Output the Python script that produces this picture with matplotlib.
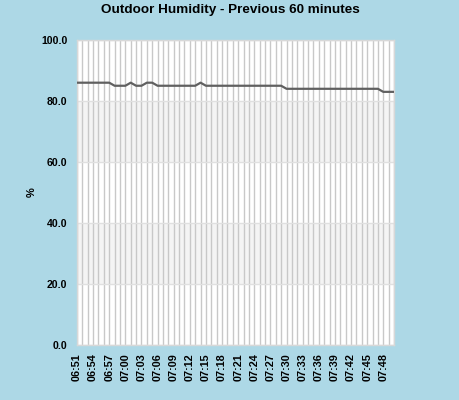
import matplotlib
matplotlib.use("Agg")
import matplotlib.pyplot as plt
from matplotlib.ticker import FixedLocator

plt.rcParams['font.family'] = ['Liberation Sans', 'DejaVu Sans']

times = ["06:51", "06:52", "06:53", "06:54", "06:55", "06:56", "06:57", "06:58", "06:59", "07:00",
         "07:01", "07:02", "07:03", "07:04", "07:05", "07:06", "07:07", "07:08", "07:09", "07:10",
         "07:11", "07:12", "07:13", "07:14", "07:15", "07:16", "07:17", "07:18", "07:19", "07:20",
         "07:21", "07:22", "07:23", "07:24", "07:25", "07:26", "07:27", "07:28", "07:29", "07:30",
         "07:31", "07:32", "07:33", "07:34", "07:35", "07:36", "07:37", "07:38", "07:39", "07:40",
         "07:41", "07:42", "07:43", "07:44", "07:45", "07:46", "07:47", "07:48", "07:49", "07:50"]
humidity = [86, 86, 86, 86, 86, 86, 86, 85, 85, 85,
            86, 85, 85, 86, 86, 85, 85, 85, 85, 85,
            85, 85, 85, 86, 85, 85, 85, 85, 85, 85,
            85, 85, 85, 85, 85, 85, 85, 85, 85, 84,
            84, 84, 84, 84, 84, 84, 84, 84, 84, 84,
            84, 84, 84, 84, 84, 84, 84, 83, 83, 83]
y_ticks = [0, 20, 40, 60, 80, 100]
title = "Outdoor Humidity - Previous 60 minutes"
y_label = "%"

bg = "#ADD8E6"
fig = plt.figure(figsize=(4.6, 4.0), dpi=100, facecolor=bg)
ax = fig.add_axes([77/460, 1-345/400, (394-77)/460, (345-40)/400])
ax.set_facecolor("white")

x = list(range(len(times)))
ax.set_xlim(0, len(times) - 1)
ax.set_ylim(0, 100)

# alternating bands
for i in range(len(y_ticks) - 1):
    if i % 2 == 1:
        ax.axhspan(y_ticks[i], y_ticks[i+1], color="#F4F4F4", zorder=0, lw=0)

ax.xaxis.set_major_locator(FixedLocator(x[::3]))
ax.xaxis.set_minor_locator(FixedLocator(x))
ax.set_xticks(x[::3])
ax.set_xticklabels(times[::3], rotation=90, fontsize=7.8, fontweight="bold")
ax.set_yticks(y_ticks)
ax.set_yticklabels([f"{v:.1f}" for v in y_ticks], fontsize=7.6, fontweight="bold")
ax.grid(True, which="both", axis="x", color="#C8C8C8", lw=1, zorder=1)
ax.grid(True, which="major", axis="y", color="#E0E0E0", lw=1, zorder=1)
ax.tick_params(axis="y", which="both", length=0, pad=7)
ax.tick_params(axis="x", which="both", length=0, pad=6)
ax.set_axisbelow(True)

for s in ax.spines.values():
    s.set_color("#D8D8D8")
    s.set_linewidth(1)

ax.plot(x, humidity, color="#606060", lw=1.6, zorder=3)

ax.set_ylabel(y_label, fontsize=8, fontweight="bold", labelpad=3)
fig.text(0.5, 1-10/400, title, ha="center", va="center", fontsize=9.7, fontweight="bold")

fig.savefig("out.png", dpi=100, facecolor=bg)
